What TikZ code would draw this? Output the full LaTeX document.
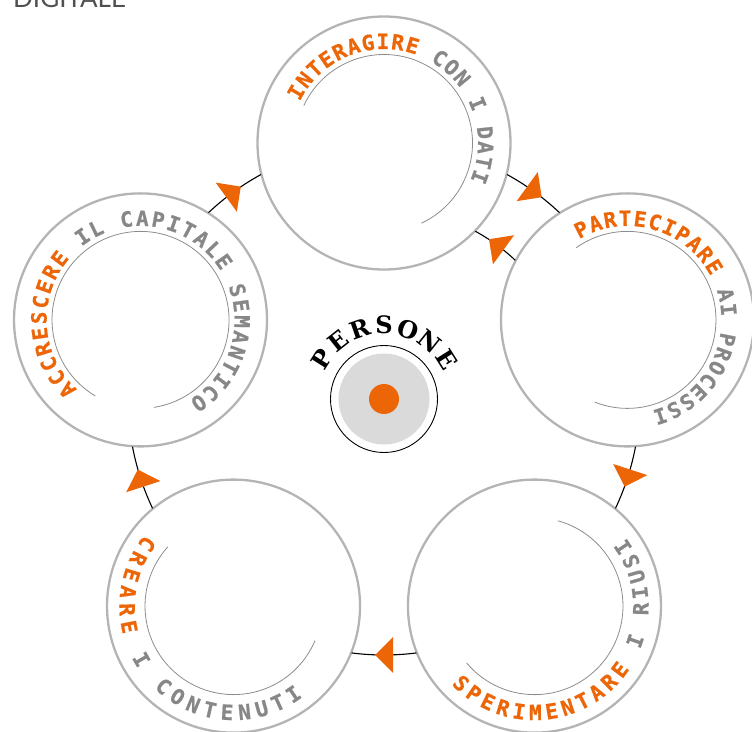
\documentclass[tikz,border=0pt]{standalone}
\usepackage{fontspec}
\usetikzlibrary{calc,decorations.markings}
\newfontfamily\monofam{DejaVu Sans Mono}[BoldFeatures={FakeBold=0.8}]
\newfontfamily\persfont{DejaVu Serif}
\newfontfamily\latofont{Lato}
\definecolor{ora}{HTML}{EC6608}
\definecolor{gry}{HTML}{878787}
\definecolor{ringcol}{HTML}{B4B4B4}
\definecolor{innercol}{HTML}{8C8C8C}
\definecolor{dotgray}{HTML}{DADADA}
\definecolor{dgray}{HTML}{505050}
\tikzset{
  ringcircle/.style={circle, draw=ringcol, line width=2.3pt, minimum size=253pt, inner sep=0pt},
  innerarc/.style={draw=innercol, line width=0.8pt},
  conn/.style={draw=black, line width=1.1pt,
    postaction={decorate},
    decoration={markings, mark=at position 0.5 with {\fill[ora] (9pt,0pt) -- (-9pt,18pt) -- (-9pt,-18pt) -- cycle;}}},
  ringchar/.style={inner sep=0pt, anchor=base, font=\monofam\bfseries\fontsize{21}{21}\selectfont},
  perschar/.style={inner sep=0pt, anchor=base, text=black, font=\persfont\bfseries\fontsize{24}{24}\selectfont},
}
% #1 node, #2 baseline radius, #3 start angle, #4 step, #5 number of orange chars, #6 rotation offset, #7 list
\newcommand{\ringtext}[7]{%
  \foreach \ch [count=\i from 0] in {#7} {%
    \pgfmathsetmacro\ang{#3+\i*(#4)}%
    \ifnum\i<#5 \def\col{ora}\else\def\col{gry}\fi
    \node[ringchar, text=\col, rotate=\ang+#6] at ($(#1)+(\ang:#2)$) {\ch};
  }%
}
\begin{document}
\begin{tikzpicture}[x=1pt,y=1pt]
\useasboundingbox (0,0) rectangle (752,-731);
\coordinate (C) at (384,-399);

% header text (cut off at the top)
\node[anchor=base west, inner sep=0pt, text=dgray, font=\latofont\fontsize{26}{26}\selectfont] (dig) at (13,-7.5) {DIGITALE};

% five rings
\node[ringcircle] (top) at ($(C)+(90:256)$) {};
\node[ringcircle] (right) at ($(C)+(18:256)$) {};
\node[ringcircle] (br) at ($(C)+(-54:256)$) {};
\node[ringcircle] (bl) at ($(C)+(-126:256)$) {};
\node[ringcircle] (left) at ($(C)+(162:256)$) {};

% connectors (clockwise)
\draw[conn] ($(C)+(61.28:256)$) arc[start angle=61.28, end angle=46.72, radius=256];
\draw[conn] ($(C)+(-10.72:256)$) arc[start angle=-10.72, end angle=-25.28, radius=256];
\draw[conn] ($(C)+(-82.72:256)$) arc[start angle=-82.72, end angle=-97.28, radius=256];
\draw[conn] ($(C)+(-154.72:256)$) arc[start angle=-154.72, end angle=-169.28, radius=256];
\draw[conn] ($(C)+(133.28:256)$) arc[start angle=133.28, end angle=118.72, radius=256];
% reverse connector
\draw[conn] ($(C)+(46.56:191)$) arc[start angle=46.56, end angle=61.44, radius=191];

% inner arcs
\draw[innerarc] ($(top)+(155:88.5)$) arc[start angle=155, end angle=-65, radius=88.5];
\draw[innerarc] ($(right)+(125.4:88.5)$) arc[start angle=125.4, end angle=-111.8, radius=88.5];
\draw[innerarc] ($(left)+(239.3:88.5)$) arc[start angle=239.3, end angle=-81.3, radius=88.5];
\draw[innerarc] ($(br)+(-140:88.5)$) arc[start angle=-140, end angle=74.7, radius=88.5];
\draw[innerarc] ($(bl)+(138:88.5)$) arc[start angle=138, end angle=337.1, radius=88.5];

% ring texts
\ringtext{top}{94}{150}{-8.48}{10}{-90}{I,N,T,E,R,A,G,I,R,E,{},C,O,N,{},I,{},D,A,T,I}
\ringtext{right}{94}{117}{-8.55}{11}{-90}{P,A,R,T,E,C,I,P,A,R,E,{},A,I,{},P,R,O,C,E,S,S,I}
\ringtext{left}{94}{223.8}{-8.99}{10}{-90}{A,C,C,R,E,S,C,E,R,E,{},I,L,{},C,A,P,I,T,A,L,E,{},S,E,M,A,N,T,I,C,O}
\ringtext{br}{114}{-133.5}{8.8}{12}{90}{S,P,E,R,I,M,E,N,T,A,R,E,{},I,{},R,I,U,S,I}
\ringtext{bl}{114}{144.2}{9.41}{6}{90}{C,R,E,A,R,E,{},I,{},C,O,N,T,E,N,U,T,I}

% centre
\node[circle, draw=black, line width=0.9pt, minimum size=107pt, inner sep=0pt] (pc) at (C) {};
\node[circle, fill=dotgray, minimum size=91pt, inner sep=0pt] (pg) at (C) {};
\node[circle, fill=ora, minimum size=30pt, inner sep=0pt] (po) at (C) {};
\foreach \ch [count=\i from 0] in {P,E,R,S,O,N,E} {
  \pgfmathsetmacro\ang{147.5-\i*19.2}
  \node[perschar, rotate=\ang-90] at ($(C)+(\ang:65)$) {\ch};
}
\end{tikzpicture}
\end{document}
